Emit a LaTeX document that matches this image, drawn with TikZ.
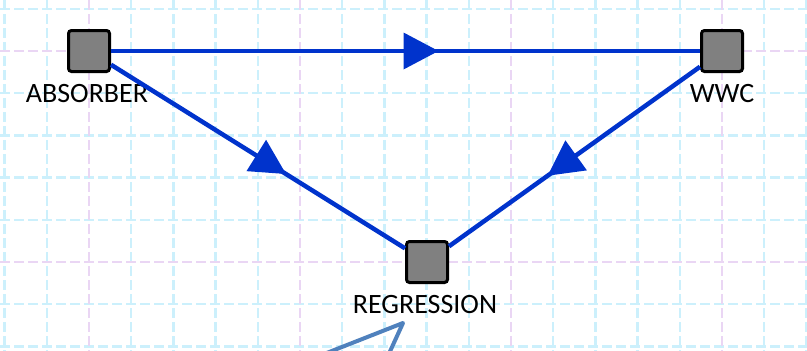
\documentclass[tikz,border=0pt]{standalone}
\usepackage{fontspec}
\setmainfont{Carlito}
\usepackage{tikz}
\usetikzlibrary{positioning}
\usetikzlibrary{decorations.markings}

\definecolor{flowblue}{RGB}{0,51,204}
\definecolor{unitgray}{RGB}{128,128,128}
\definecolor{gridcyan}{RGB}{204,240,252}
\definecolor{gridpink}{RGB}{234,214,244}
\definecolor{calloutblue}{RGB}{79,129,189}

\begin{document}
\begin{tikzpicture}[x=1pt,y=-1pt,
    unit/.style={draw=black,line width=3pt,fill=unitgray,rounded corners=3pt,minimum size=41pt,inner sep=0pt},
    tag/.style={font=\fontsize{28}{30}\selectfont,inner sep=0pt},
    gridline/.style={line width=2.5pt,dash pattern=on 10pt off 4pt},
    flow/.style={draw=flowblue,line width=4.5pt,postaction={decorate},
      decoration={markings,mark=at position 0.5 with
        {\fill[flowblue] (-2pt,-18.5pt) -- (33pt,0pt) -- (-2pt,18.5pt) -- cycle;}}},
    callout/.style={draw=calloutblue,line width=4pt,line join=round}]
  \useasboundingbox (0,0) rectangle (807,351);
  \fill[white] (0,0) rectangle (807,351);
  % grid
  \foreach \i in {0,...,19}
    \draw[gridline,gridcyan] ({89+(\i-2)*42.2},0) -- ({89+(\i-2)*42.2},351);
  \foreach \j in {0,...,8}
    \draw[gridline,gridcyan] (0,{51+(\j-1)*42.2}) -- (807,{51+(\j-1)*42.2});
  \foreach \i in {2,7,12,17}
    \draw[gridline,gridpink] ({89+(\i-2)*42.2},0) -- ({89+(\i-2)*42.2},351);
  \foreach \j in {1,6}
    \draw[gridline,gridpink] (0,{51+(\j-1)*42.2}) -- (807,{51+(\j-1)*42.2});

  \node[unit] (absorber) at (89,51) {};
  \node[unit] (wwc) at (722,51) {};
  \node[unit] (regression) at (427,262) {};
  \node[tag,below=11pt of absorber,xshift=-2pt] (absorber-tag) {ABSORBER};
  \node[tag,below=11pt of wwc] (wwc-tag) {WWC};
  \node[tag,below=11pt of regression,xshift=-2pt] (regression-tag) {REGRESSION};

  \draw[flow] (absorber) -- (wwc);
  \draw[flow] (absorber) -- (regression);
  \draw[flow] (wwc) -- (regression);

  % callout pointer
  \coordinate (callout-a) at (314,358);
  \coordinate (callout-tip) at (403,323);
  \coordinate (callout-b) at (387,358);
  \draw[callout] (callout-a) -- (callout-tip) -- (callout-b);
\end{tikzpicture}
\end{document}
